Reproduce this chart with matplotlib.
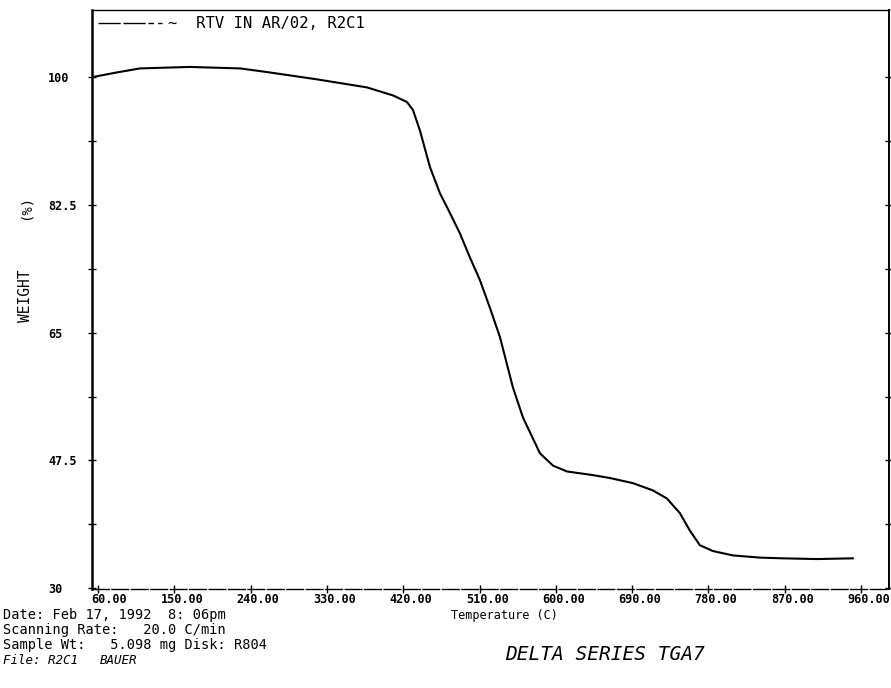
import matplotlib
matplotlib.use("Agg")
import matplotlib.pyplot as plt
from matplotlib.lines import Line2D
from matplotlib.transforms import ScaledTranslation

# TGA scan
temp = [52.9, 80, 109.5, 168.5, 227.5, 259.3, 318.3, 377.2, 407.9, 424.4, 431.5,
        439.7, 451.5, 463.3, 475.1, 486.9, 498.7, 510.5, 522.3, 534.1, 549.4,
        561.2, 581.2, 596.6, 613.1, 643.7, 663.8, 690.9, 714.5, 731.0, 746.3,
        758.1, 769.9, 785.2, 808.8, 840.7, 867.8, 907.9, 950.3]
weight = [100.0, 100.6, 101.2, 101.4, 101.2, 100.7, 99.7, 98.6, 97.5, 96.6, 95.5,
          92.7, 87.7, 84.1, 81.4, 78.6, 75.3, 72.2, 68.4, 64.4, 57.5,
          53.4, 48.5, 46.8, 46.0, 45.5, 45.1, 44.4, 43.4, 42.3, 40.3,
          37.9, 35.9, 35.1, 34.5, 34.2, 34.1, 34.0, 34.1]

x_ticks = [60, 150, 240, 330, 420, 510, 600, 690, 780, 870, 960]
y_major = [30, 47.5, 65, 82.5, 100]
y_labels = ["30", "47.5", "65", "82.5", "100"]
y_minor = [38.75, 56.25, 73.75, 91.25]

legend_label = "~  RTV IN AR/02, R2C1"
info_lines = ["Date: Feb 17, 1992  8: 06pm",
              "Scanning Rate:   20.0 C/min",
              "Sample Wt:   5.098 mg Disk: R804"]

MONO = "DejaVu Sans Mono"

fig = plt.figure(figsize=(8.91, 6.88), dpi=100)
ax = fig.add_axes([92 / 891, 1 - 589 / 688, (889 - 92) / 891, (589 - 10) / 688])

ax.plot(temp, weight, color="k", lw=1.5)
ax.set_xlim(52.9, 993)
ax.set_ylim(29.9, 109.2)

ax.set_xticks(x_ticks)
ax.set_xticklabels([f"{t:.2f}" for t in x_ticks])
ax.set_yticks(y_major)
ax.set_yticklabels(y_labels)
ax.set_yticks(y_minor, minor=True)

ax.tick_params(axis="both", which="both", direction="inout", length=6, width=1, colors="k")
ax.tick_params(axis="y", which="both", right=True, labelright=False, pad=28.5)
ax.tick_params(axis="x", pad=0)

# tick labels: plotter style, x labels sit right of the tick
off = ScaledTranslation(29 / 100, 0, fig.dpi_scale_trans)
for lbl in ax.get_xticklabels():
    lbl.set_fontfamily(MONO)
    lbl.set_fontsize(8.5)
    lbl.set_fontweight("bold")
    lbl.set_ha("right")
    lbl.set_transform(lbl.get_transform() + off)
for lbl in ax.get_yticklabels():
    lbl.set_fontfamily(MONO)
    lbl.set_fontsize(8.5)
    lbl.set_fontweight("bold")
    lbl.set_ha("left")

ax.spines["left"].set_linewidth(1.8)
ax.spines["right"].set_linewidth(1.4)
ax.spines["top"].set_linewidth(1.0)
ax.spines["bottom"].set_linewidth(1.0)
ax.spines["bottom"].set_linestyle((0, (12, 2)))

# legend
handle = Line2D([], [], color="k", lw=1, dashes=(16, 2, 16, 2, 4, 3))
ax.legend([handle], [legend_label], loc="upper left", frameon=False,
          handlelength=4.1, handletextpad=0.4, borderaxespad=0.2, borderpad=0.2,
          prop={"family": MONO, "size": 11.2})

# axis titles
fig.text(26 / 891, 1 - 296 / 688, "WEIGHT", rotation=90, ha="center", va="center",
         family=MONO, fontsize=10.5)
fig.text(26 / 891, 1 - 207 / 688, "(%)", rotation=90, ha="center", va="center",
         family=MONO, fontsize=10)
fig.text(504 / 891, 1 - 615 / 688, "Temperature (C)", ha="center", va="center",
         family=MONO, fontsize=8.5)

# instrument info block
for i, line in enumerate(info_lines):
    fig.text(3 / 891, 1 - (615 + 15 * i) / 688, line, ha="left", va="center",
             family=MONO, fontsize=9.8)
fig.text(3 / 891, 1 - 660 / 688, "File: R2C1", ha="left", va="center",
         family=MONO, fontsize=9, style="italic")
fig.text(100 / 891, 1 - 660 / 688, "BAUER", ha="left", va="center",
         family=MONO, fontsize=9, style="italic")
fig.text(505 / 891, 1 - 655 / 688, "DELTA SERIES TGA7", ha="left", va="center",
         family=MONO, fontsize=14, style="italic")

fig.savefig("out.png", dpi=100)
